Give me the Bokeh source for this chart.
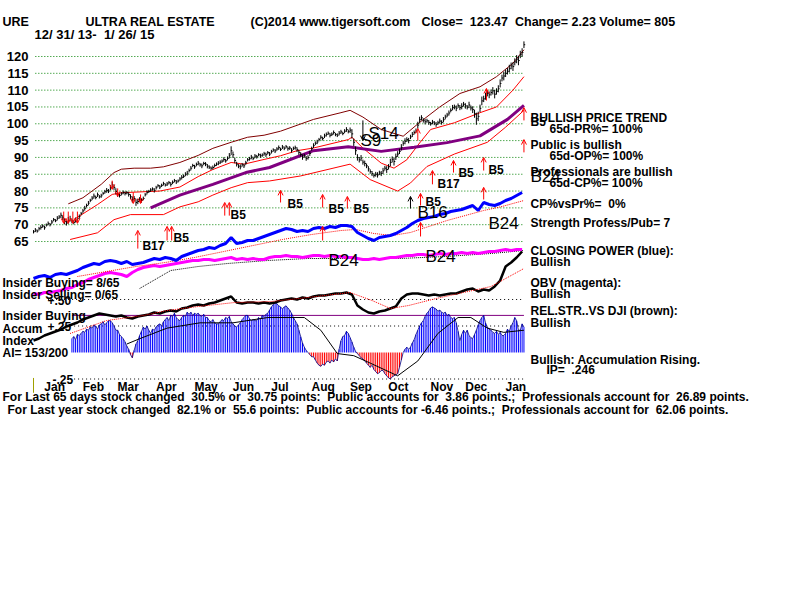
import numpy as np
from bokeh.plotting import figure
from bokeh.models import Range1d, Label, Arrow, OpenHead, ColumnDataSource
from bokeh.embed import file_html
from bokeh.resources import INLINE
from bokeh.core.properties import value

# ---------------- data ----------------
close = [
67.9, 68.4, 68.1, 68.8, 69.2, 69.6, 69.1, 69.9, 70.4, 70.0,
70.8, 71.5, 71.2, 71.9, 72.3, 72.8, 72.1, 71.0, 70.5, 71.3,
71.8, 71.1, 70.7, 71.4, 71.8, 72.4, 73.3, 74.1, 74.9, 75.7,
76.4, 77.2, 77.9, 78.5, 78.1, 78.9, 78.3, 78.6, 79.3, 79.8,
80.2, 80.0, 81.0, 81.9, 81.1, 79.9, 79.0, 78.7, 79.2, 79.6,
79.3, 79.5, 79.0, 78.3, 77.5, 77.8, 76.6, 76.9, 77.6, 77.2,
77.8, 78.9, 79.6, 79.9, 80.3, 80.6, 80.2, 81.0, 81.6, 81.2,
81.7, 82.2, 81.8, 82.1, 82.5, 82.0, 82.6, 83.1, 82.7, 83.0,
83.6, 84.1, 84.4, 85.0, 85.3, 86.1, 86.8, 87.6, 87.2, 87.9,
88.3, 87.8, 87.5, 88.2, 88.0, 87.4, 87.1, 86.8, 87.0, 87.6,
88.0, 88.3, 88.6, 88.9, 89.4, 89.0, 89.7, 90.5, 92.0, 90.8,
89.1, 88.0, 87.4, 87.2, 87.8, 87.5, 88.4, 89.3, 89.6, 90.1,
89.7, 90.4, 90.2, 90.8, 90.5, 90.7, 91.1, 90.8, 91.4, 91.0,
91.7, 92.2, 91.9, 92.5, 92.9, 92.4, 93.1, 92.7, 93.2, 92.6,
92.8, 92.1, 92.7, 92.9, 92.3, 91.5, 90.9, 90.1, 90.5, 89.7,
90.0, 91.2, 92.6, 93.5, 94.2, 94.6, 95.3, 96.0, 95.6, 96.4,
96.8, 97.2, 96.6, 96.9, 97.4, 96.8, 96.6, 97.2, 97.6, 97.1,
97.8, 98.3, 97.7, 98.1, 97.0, 94.5, 92.0, 90.0, 89.3, 89.8,
88.6, 88.2, 87.5, 86.6, 85.8, 85.2, 84.6, 85.0, 84.8, 85.4,
85.2, 86.0, 86.8, 86.4, 87.2, 88.5, 89.4, 88.8, 90.2, 91.0,
91.8, 93.0, 94.2, 94.8, 95.3, 95.0, 96.1, 96.8, 97.4, 97.9,
99.6, 101.2, 101.8, 101.0, 100.6, 100.9, 100.4, 100.0, 100.5, 100.2,
99.8, 100.3, 100.8, 100.4, 101.2, 102.0, 102.6, 103.2, 104.0, 104.8,
105.0, 104.6, 105.4, 104.8, 105.2, 105.8, 105.3, 104.9, 105.6, 104.7,
104.2, 103.0, 101.5, 102.2, 104.6, 106.8, 107.4, 108.2, 109.0, 108.6,
109.3, 109.8, 108.8, 109.6, 110.4, 112.0, 113.6, 114.2, 115.0, 115.6,
116.4, 117.2, 117.0, 118.4, 119.2, 118.8, 120.6, 121.2, 123.5]

bar_range = [
1.0, 1.2, 0.9, 1.1, 1.3, 1.0, 1.2, 0.9, 1.1, 1.0,
1.2, 1.0, 0.9, 1.3, 1.1, 1.6, 1.4, 1.8, 1.5, 2.0,
1.7, 1.4, 1.2, 1.5, 1.1, 1.3, 1.0, 1.2, 1.4, 1.1,
1.3, 1.0, 1.2, 1.5, 1.1, 1.3, 1.0, 1.2, 0.9, 1.1,
1.4, 1.2, 1.6, 1.8, 1.5, 1.9, 1.4, 1.2, 1.0, 1.1,
1.2, 1.0, 1.3, 1.5, 1.8, 1.4, 2.0, 1.6, 1.2, 1.3,
1.1, 1.0, 1.2, 0.9, 1.1, 1.0, 1.3, 1.1, 0.9, 1.2,
1.0, 1.1, 0.9, 1.2, 1.0, 1.3, 1.1, 1.0, 1.2, 0.9,
1.1, 1.3, 1.0, 1.2, 1.4, 1.1, 1.3, 1.0, 1.2, 1.1,
1.3, 1.1, 1.4, 1.0, 1.2, 1.3, 1.1, 1.0, 1.2, 1.1,
1.0, 1.2, 1.1, 1.0, 1.3, 1.1, 1.2, 1.6, 2.6, 1.9,
1.7, 1.4, 1.2, 1.5, 1.1, 1.3, 1.2, 1.0, 1.1, 1.3,
1.0, 1.2, 1.1, 0.9, 1.2, 1.0, 1.1, 1.3, 1.0, 1.2,
1.1, 1.0, 1.2, 1.1, 1.3, 1.0, 1.2, 1.1, 1.0, 1.2,
1.1, 1.3, 1.0, 1.2, 1.4, 1.5, 1.3, 1.6, 1.2, 1.4,
1.3, 1.5, 1.2, 1.4, 1.1, 1.3, 1.0, 1.2, 1.1, 1.3,
1.2, 1.0, 1.3, 1.1, 1.2, 1.0, 1.1, 1.3, 1.2, 1.0,
1.2, 1.4, 1.1, 1.6, 2.8, 2.2, 2.5, 1.9, 1.6, 1.8,
1.5, 1.7, 1.4, 1.6, 1.3, 1.5, 1.2, 1.4, 1.6, 1.3,
1.5, 1.8, 1.4, 2.0, 1.6, 2.2, 1.8, 2.4, 1.9, 1.7,
1.6, 1.9, 1.5, 1.8, 1.4, 1.6, 1.3, 1.5, 1.2, 1.4,
2.0, 1.8, 1.5, 1.3, 1.6, 1.2, 1.4, 1.1, 1.3, 1.2,
1.4, 1.2, 1.5, 1.3, 1.6, 1.4, 1.3, 1.5, 1.2, 1.6,
1.4, 1.7, 1.3, 1.5, 1.8, 1.4, 1.6, 1.3, 1.9, 1.5,
2.0, 2.4, 3.6, 2.8, 2.2, 2.6, 1.9, 2.1, 1.7, 2.0,
1.8, 2.2, 2.5, 1.9, 2.1, 2.4, 2.0, 2.6, 2.2, 1.9,
2.3, 2.0, 2.6, 2.1, 2.4, 2.8, 2.2, 2.5, 2.0]

price_ticks = [120, 115, 110, 105, 100, 95, 90, 85, 80, 75, 70, 65]
month_names = ["Jan", "Feb", "Mar", "Apr", "May", "Jun", "Jul", "Aug", "Sep", "Oct", "Nov", "Dec", "Jan"]
month_start = [1, 22, 41, 62, 83, 104, 125, 147, 168, 189, 212, 231, 253]

upper_x = [19, 27, 37, 44, 48, 55, 64, 71, 80, 90, 98, 108, 117, 126, 135, 153, 168, 173, 180, 190, 202, 211, 222, 233, 244, 253, 262, 268]
upper_y = [76.2, 78.0, 82.0, 85.5, 86.5, 86.8, 86.8, 87.2, 88.5, 90.6, 92.7, 94.5, 96.0, 96.6, 97.8, 101.3, 103.3, 104.0, 102.0, 98.3, 96.3, 100.4, 105.0, 109.0, 111.0, 114.0, 118.0, 122.0]
inner_x = [22, 35, 43, 48, 69, 80, 90, 98, 108, 115, 126, 135, 144, 153, 172, 174, 180, 190, 197, 204, 211, 217, 230, 244, 253, 262, 268]
inner_y = [71.5, 76.0, 79.0, 79.5, 80.0, 81.2, 84.3, 86.4, 88.5, 88.0, 89.4, 90.5, 92.0, 92.8, 95.3, 96.0, 92.8, 88.3, 86.8, 89.3, 94.3, 98.3, 100.3, 103.3, 105.0, 110.0, 114.0]
lower_x = [20, 35, 44, 53, 71, 80, 90, 98, 108, 117, 129, 146, 173, 184, 199, 206, 215, 230, 248, 258, 268]
lower_y = [65.6, 67.6, 71.5, 73.0, 73.0, 75.3, 76.8, 78.8, 81.0, 82.5, 83.0, 84.5, 88.0, 83.4, 80.0, 82.4, 87.3, 91.0, 94.5, 99.0, 104.0]
ma65_x = [64, 80, 98, 116, 129, 153, 172, 190, 208, 226, 244, 259, 268]
ma65_y = [75.0, 78.8, 82.0, 85.5, 87.0, 92.0, 93.2, 91.8, 93.0, 94.4, 96.4, 101.3, 105.5]

# indicators sampled every 3rd trading day
closing_power = [2, 4, 5, 3, 6, 7, 6, 8, 10, 13, 15, 17, 16, 19, 20, 19, 17, 19, 16, 17,
                 18, 20, 22, 21, 23, 22, 20, 24, 26, 28, 30, 31, 33, 32, 35, 37, 43, 37, 38, 40,
                 40, 42, 44, 46, 48, 50, 52, 51, 49, 50, 49, 52, 53, 52, 54, 53, 55, 55, 54, 48,
                 45, 42, 40, 43, 44, 45, 47, 50, 53, 57, 60, 62, 63, 64, 66, 67, 69, 70, 71, 73,
                 75, 70, 78, 76, 75, 77, 80, 82, 85, 88]
obv = [7, 6, 8, 8, 9, 10, 12, 13, 16, 18, 21, 23, 25, 27, 28, 27, 26, 24, 28, 31,
       33, 34, 35, 34, 35, 36, 37, 38, 39, 40, 40, 41, 41, 40, 41, 42, 43, 41, 42, 41,
       42, 41, 41, 43, 44, 44, 45, 44, 44, 43, 44, 45, 45, 44, 45, 44, 44, 43, 43, 42,
       41, 41, 42, 41, 42, 43, 43, 44, 45, 45, 46, 46, 45, 46, 47, 46, 47, 47, 48, 47,
       48, 47, 48, 49, 49, 50, 51, 50, 51, 51]
rel_str = [10, 12, 15, 17, 19, 21, 24, 26, 28, 31, 33, 35, 37, 36, 35, 34, 35, 33, 32, 34,
           35, 36, 38, 37, 39, 40, 39, 42, 43, 45, 46, 45, 47, 48, 50, 52, 54, 48, 47, 48,
           48, 47, 48, 47, 48, 50, 51, 52, 51, 53, 52, 54, 55, 55, 56, 57, 57, 58, 56, 45,
           41, 38, 37, 39, 40, 42, 44, 52, 56, 57, 57, 56, 55, 56, 55, 56, 57, 57, 59, 61,
           62, 59, 61, 60, 64, 70, 84, 88, 93, 99]

cp_ma_x = [24, 40, 56, 72, 88, 104, 120, 136, 152, 168, 176, 186, 196, 206, 216, 226, 236, 246, 256, 268]
cp_ma_y = [4, 9, 14, 18, 23, 29, 35, 41, 46, 50, 51, 47, 45, 48, 54, 60, 65, 70, 74, 80]
obv_ma_x = [58, 75, 90, 106, 128, 150, 175, 200, 225, 250, 268]
obv_ma_y = [12, 30, 34, 37, 40, 42, 42, 42, 44, 47, 50]
rs_ma_x = [20, 40, 60, 73, 90, 110, 130, 150, 173, 185, 195, 205, 220, 235, 250, 260, 268]
rs_ma_y = [17, 30, 35, 40, 44, 48, 49, 53, 58, 50, 42, 45, 52, 58, 64, 74, 82]

accum_start = 21
accum = [
.13, .15, .12, .17, .16, .18, .20, .19, .22, .21,
.24, .23, .26, .25, .22, .26, .27, .29, .26, .28,
.30, .30, .28, .25, .21, .21, .17, .15, .13, .10,
.06, .03, -.02, -.05, .02, .08, .11, .16, .20, .24,
.22, .25, .21, .18, .22, .21, .24, .26, .27, .25,
.29, .31, .33, .30, .35, .34, .37, .33, .31, .30,
.33, .35, .34, .38, .36, .38, .35, .37, .36, .37,
.35, .34, .36, .33, .33, .30, .29, .31, .28, .27,
.27, .29, .31, .30, .33, .32, .34, .29, .27, .25,
.24, .26, .28, .31, .33, .35, .35, .32, .30, .31,
.30, .30, .33, .31, .35, .34, .36, .37, .40, .43,
.45, .47, .46, .44, .43, .41, .43, .44, .42, .40,
.37, .33, .30, .27, .21, .15, .09, .05, .02, .00,
-.02, -.04, -.04, -.07, -.10, -.12, -.13, -.11, -.12, -.09,
-.08, -.10, -.07, -.09, -.06, -.08, .03, .11, .15, .16,
.20, .18, .14, .10, .05, .01, -.01, -.03, -.05, -.06,
-.08, -.10, -.12, -.14, -.12, -.16, -.18, -.20, -.19, -.17,
-.17, -.20, -.22, -.24, -.25, -.23, -.22, -.21, -.20, -.14,
-.07, .00, .03, .05, .03, .05, .09, .12, .17, .21,
.25, .28, .30, .34, .37, .39, .42, .43, .42, .41,
.39, .40, .38, .37, .38, .35, .36, .33, .32, .33,
.28, .20, .11, .17, .21, .18, .21, .16, .14, .13,
.17, .21, .26, .30, .33, .35, .28, .24, .22, .21,
.19, .18, .20, .17, .19, .16, .16, .18, .22, .20,
.25, .28, .33, .30, .21, .21, .27, .24]
accum_ma_x = [51, 58, 73, 91, 109, 128, 148, 157, 166, 175, 184, 199, 210, 221, 232, 239, 248, 257, 268]
accum_ma_y = [0.08, 0.13, 0.23, 0.28, 0.28, 0.33, 0.33, 0.21, -0.01, -0.03, -0.10, -0.22, -0.08, 0.18, 0.33, 0.33, 0.23, 0.19, 0.21]
accum_levels = [0.50, 0.25, -0.25]
accum_ref = 0.35

# signals (day index, base price, tip price)
buy_x = [57, 73, 75.5, 104.5, 107, 135, 158, 158, 171.5, 211.5, 211.5, 218, 229.5, 246, 246, 268, 268, 210, 247.5]
buy_y0 = [62.9, 65.3, 65.3, 72.7, 72.7, 76.6, 75.1, 65.3, 74.8, 75.7, 66.5, 82.0, 85.5, 86.1, 77.5, 101.0, 91.5, 95.0, 106.9]
buy_y1 = [68.3, 69.5, 69.5, 76.6, 76.6, 80.2, 79.0, 69.5, 78.4, 79.3, 70.7, 86.1, 89.1, 90.0, 81.1, 104.8, 95.3, 98.6, 110.5]
sell_x = [16.5, 19, 21.5, 24, 43, 46, 54.5, 58.5]
sell_y0 = [73.9, 73.9, 73.9, 73.9, 83.1, 80.8, 79.6, 79.0]
sell_y1 = [70.4, 70.4, 70.4, 70.4, 80.5, 78.4, 76.3, 76.3]
blk_up_x, blk_up_y0, blk_up_y1 = [206], [74.8], [78.4]
blk_dn_x, blk_dn_y0, blk_dn_y1 = [180], [101.0], [95.0]

sig_text = ["B17", "B5", "B5", "B5", "B5", "B5", "B5", "B17", "B5", "B5", "B5"]
sig_x = [59.5, 76.5, 107.7, 138.8, 161.2, 174.9, 214.2, 220.8, 232.2, 248.6, 271.6]
sig_y = [63.8, 65.9, 73.0, 76.3, 74.8, 74.8, 76.6, 82.2, 85.5, 86.4, 100.4]
big_text = ["B24", "B24", "B24", "B24", "B16", "S14", "S9"]
big_x = [248.6, 161.2, 214.2, 271.6, 209.8, 183.0, 178.7]
big_y = [70.4, 59.4, 60.5, 84.3, 73.6, 97.1, 95.0]

# ---------------- layout helpers ----------------
X0, DX, Y0, DY = 33.0, 1.83, 56.0, 3.364
def px_x(px):
    return (px - X0) / DX
def px_y(py):
    return 120 - (py - Y0) / DY

NB = "\u00a0"
def keep(s):
    # keep the wide spacing of the original text (SVG collapses double spaces)
    return s.replace("  ", " " + NB)

FONT = "Liberation Sans"
p = figure(width=800, height=600, output_backend="svg", toolbar_location=None,
           x_range=Range1d(px_x(0), px_x(800)), y_range=Range1d(px_y(600), px_y(0)),
           x_axis_location=None, y_axis_location=None, min_border=0,
           outline_line_color=None, background_fill_color="white", border_fill_color="white")
p.grid.visible = False
p.extra_y_ranges = {
    "cp": Range1d(280 - 600, 280),
    "obv": Range1d(300 - 600, 300),
    "rs": Range1d(350 - 600, 350),
    "ai": Range1d((352 - 600) / 106, 352 / 106),
}

n = len(close)
days = np.arange(n)
c = np.array(close)
r = np.array(bar_range)
step3 = np.arange(0, 3 * len(closing_power), 3)

# price grid
p.segment(x0=1, y0=price_ticks, x1=n - 1, y1=price_ticks, line_color="#008000",
          line_dash="1 2", line_width=1)
p.text(x=px_x(28), y=price_ticks, text=[str(t) for t in price_ticks], text_align="right",
       text_baseline="middle", text_font=value(FONT), text_font_style="bold",
       text_font_size="13px", text_color="black")

# bands and moving average
p.line(upper_x, upper_y, line_color="#800000", line_width=1)
p.line(inner_x, inner_y, line_color="#FF0000", line_width=1)
p.line(lower_x, lower_y, line_color="#FF0000", line_width=1)
p.line(ma65_x, ma65_y, line_color="#800080", line_width=3)

# price bars
p.segment(x0=days, y0=c - r / 2, x1=days, y1=c + r / 2, line_color="black", line_width=1)
p.segment(x0=days, y0=c, x1=days + 0.7, y1=c, line_color="black", line_width=1)

# lower panel grid lines
p.segment(x0=[8, 20, 20], y0=accum_levels, x1=[n - 1] * 3, y1=accum_levels,
          line_color="black", line_dash="1 3", line_width=1, y_range_name="ai")
p.segment(x0=accum_start, y0=accum_ref, x1=n - 1, y1=accum_ref, line_color="#800080",
          line_width=1, y_range_name="ai")
p.segment(x0=0, y0=-0.24, x1=0, y1=-0.38, line_color="#A0A000", line_width=1, y_range_name="ai")

# accumulation histogram
ax = np.arange(accum_start, accum_start + len(accum))
src_ai = ColumnDataSource(dict(x=ax, y=accum, col=["#0000FF" if v >= 0 else "#FF0000" for v in accum]))
p.segment(x0="x", y0=0, x1="x", y1="y", line_color="col", line_width=1, source=src_ai, y_range_name="ai")
p.line(ax, accum, line_color="#000080", line_width=0.8, y_range_name="ai")
p.line(accum_ma_x, accum_ma_y, line_color="black", line_width=1, y_range_name="ai")

# relative strength (black) + MA
p.line(step3, rel_str, line_color="black", line_width=2.5, y_range_name="rs")
p.line(rs_ma_x, rs_ma_y, line_color="#FF0000", line_width=1, line_dash="1 1", y_range_name="rs")

# OBV (magenta) + MA
p.line(obv_ma_x, obv_ma_y, line_color="black", line_width=1, line_dash="1 1", y_range_name="obv")
p.line(step3, obv, line_color="#FF00FF", line_width=3, y_range_name="obv")

# closing power (blue) + MA
p.line(cp_ma_x, cp_ma_y, line_color="#FF0000", line_width=1, line_dash="1 1", y_range_name="cp")
p.line(step3, closing_power, line_color="#0000FF", line_width=3, y_range_name="cp")

# signal arrows
def arrows(xs, y0s, y1s, color):
    src = ColumnDataSource(dict(x=xs, y0=y0s, y1=y1s))
    p.add_layout(Arrow(x_start="x", y_start="y0", x_end="x", y_end="y1", source=src,
                       line_color=color, line_width=1,
                       end=OpenHead(size=5, line_color=color, line_width=1)))
arrows(buy_x, buy_y0, buy_y1, "#FF0000")
arrows(sell_x, sell_y0, sell_y1, "#FF0000")
arrows(blk_up_x, blk_up_y0, blk_up_y1, "black")
arrows(blk_dn_x, blk_dn_y0, blk_dn_y1, "black")

p.text(x=sig_x, y=sig_y, text=sig_text, text_baseline="middle", text_font=value(FONT),
       text_font_style="bold", text_font_size="12px", text_color="black")
p.text(x=big_x, y=big_y, text=big_text, text_baseline="middle", text_font=value(FONT),
       text_font_style="normal", text_font_size="17px", text_color="black")

# month labels
p.text(x=month_start, y=px_y(386), text=month_names, x_offset=9, text_baseline="middle",
       text_font=value(FONT), text_font_style="bold", text_font_size="12px", text_color="black")

# texts
def lab(px, py, s, size="12px", style="bold"):
    p.add_layout(Label(x=px_x(px), y=px_y(py), text=keep(s), text_font=FONT, text_font_size=size,
                       text_font_style=style, text_color="black", text_baseline="middle",
                       text_align="left"))

lab(2, 21, "URE", "12.5px")
lab(85, 21, "ULTRA REAL ESTATE", "12.5px")
lab(250, 21, "(C)2014 www.tigersoft.com", "12.5px")
lab(421, 21, "Close=  123.47  Change= 2.23 Volume= 805", "12.5px")
lab(34, 34, "12/ 31/ 13-  1/ 26/ 15", "13px")

lab(530, 117, "BULLISH PRICE TREND")
lab(549, 128, "65d-PR%= 100%")
lab(530, 144, "Public is bullish")
lab(549, 155, "65d-OP%= 100%")
lab(530, 171, "Professionals are bullish")
lab(549, 182, "65d-CP%= 100%")
lab(530, 203, "CP%vsPr%=  0%")
lab(530, 222, "Strength Profess/Pub= 7")
lab(530, 250, "CLOSING POWER (blue):")
lab(530, 261, "Bullish")
lab(530, 282, "OBV (magenta):")
lab(530, 293, "Bullish")
lab(530, 310, "REL.STR..VS DJI (brown):")
lab(530, 322, "Bullish")
lab(530, 359, "Bullish: Accumulation Rising.")
lab(546, 369, "IP=  .246")

lab(2, 282, "Insider Buying= 8/65")
lab(2, 294, "Insider Selling= 0/65")
lab(47, 300, "+.50")
lab(2, 315, "Insider Buying")
lab(2, 328, "Accum")
lab(47, 326, "+.25")
lab(2, 340, "Index")
lab(2, 352, "AI= 153/200")
lab(52, 379, "-.25")

lab(2, 396, "For Last 65 days stock changed  30.5% or  30.75 points:  Public accounts for  3.86 points.;  Professionals account for  26.89 points.", "12px")
lab(7, 409, "For Last year stock changed  82.1% or  55.6 points:  Public accounts for -6.46 points.;  Professionals account for  62.06 points.", "12px")

open("out.html", "w").write(file_html(p, INLINE, "URE"))
